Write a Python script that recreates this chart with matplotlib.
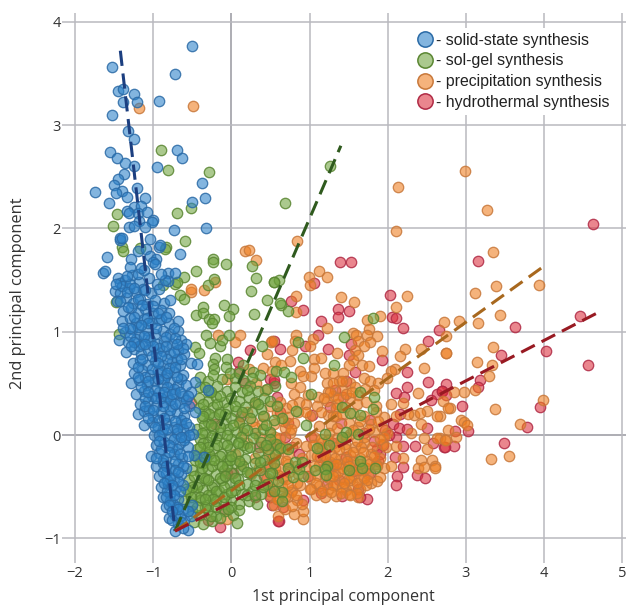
import matplotlib
matplotlib.use("Agg")
import matplotlib.pyplot as plt
from matplotlib.lines import Line2D

plt.rcParams['font.family'] = ['Open Sans', 'DejaVu Sans']

labels = ["- solid-state synthesis", "- sol-gel synthesis", "- precipitation synthesis", "- hydrothermal synthesis"]
x_label = "1st principal component"
y_label = "2nd principal component"
x_ticks = [-2, -1, 0, 1, 2, 3, 4, 5]
y_ticks = [-1, 0, 1, 2, 3, 4]

hydrothermal = [
(4.62,2.04),(3.15,1.68),(3.63,1.05),(4.46,1.15),(3.45,0.77),(4.02,0.81),(4.56,0.68),(3.18,0.53),(3.15,0.46),(2.75,0.49),
(2.69,0.43),(2.95,0.28),(3.94,0.27),(3.78,0.08),(3.03,0.04),(2.86,0.04),(3.49,-0.08),(2.85,-0.11),(2.72,-0.12),
(1.39,1.67),(1.53,1.67),(1.06,1.47),(0.76,1.30),(0.92,1.21),(2.03,1.36),(1.36,1.22),(1.50,1.20),(1.36,1.14),(1.14,1.10),
(2.05,1.14),(2.11,1.13),(2.20,1.04),(2.65,1.02),(1.11,0.97),(2.51,0.91),(1.53,0.88),(0.54,0.91),(0.62,0.83),(1.24,0.83),(0.94,0.86),
(1.92,0.73),(1.50,0.77),(2.25,0.61),(2.51,0.51),(2.11,0.41),(2.24,0.46),(2.21,0.37),(2.63,0.40),(2.69,0.43),(2.55,0.34),(2.75,0.39),
(2.50,0.07),(2.16,0.20),(2.07,0.11),(2.14,0.07),(2.24,0.06),(2.11,-0.02),(2.20,-0.11),(2.35,-0.11),(2.58,-0.08),(2.73,-0.12),
(2.20,-0.31),(2.09,-0.21),(2.12,-0.40),(2.10,-0.48),(2.37,-0.39),(2.47,-0.42),(1.74,-0.62),(1.42,-0.59),(1.15,-0.56),(0.61,-0.83),
(0.92,-0.63),(0.86,-0.18),(1.43,0.37),(1.58,0.61),(1.47,0.52),(1.33,0.44),(1.26,0.27),(1.03,0.19),(0.69,-0.02),(0.54,0.50),(0.58,0.37),
(1.77,0.15),(1.90,-0.18),(1.86,-0.14),(1.77,-0.37),(1.13,-0.21),(1.47,-0.21),(0.49,-0.60),(0.49,-0.54),
(0.24,0.82),(0.09,0.71),(0.10,0.62),(0.49,0.54),(0.55,0.53),(0.17,0.50),(-0.52,0.31),(-0.21,0.11),(-0.15,-0.89),(0.60,-0.83),
(-0.06,-0.37),(0.02,-0.37),(-0.30,-0.82),(-0.10,-0.72),(0.30,-0.60),(0.52,-0.68),(0.42,-0.40),(0.35,-0.12),(0.12,0.18),(0.72,0.12),
(1.02,-0.02),(1.30,-0.08),(1.55,-0.35),(1.62,-0.52),(1.22,-0.47),(0.98,-0.40),(0.78,-0.12),(1.70,0.02),(1.96,0.05),(1.40,0.12),(0.62,0.22),
(1.88,-0.25),(1.94,-0.10),(1.82,-0.06),(2.02,0.00),(1.65,-0.60),(1.30,-0.30),(1.38,-0.44),(0.50,-0.10),(0.46,-0.30),(0.66,-0.70),
]

precipitation = [
(2.99,2.56),(3.27,2.18),(3.35,1.77),(3.38,1.44),(3.11,1.37),(3.93,1.45),(3.43,1.16),(3.15,1.08),(2.91,1.10),(2.72,1.09),(2.74,0.96),
(2.74,0.79),(3.34,0.85),(3.14,0.71),(3.33,0.68),(3.29,0.57),(3.11,0.44),(2.97,0.42),(2.85,0.42),(2.71,0.33),(2.80,0.26),(3.37,0.25),
(3.99,0.34),(3.69,0.11),(2.94,0.15),(2.97,0.13),(3.01,0.10),(2.77,0.05),(2.87,-0.02),(2.75,-0.05),(3.55,-0.20),(3.32,-0.23),(2.67,0.18),(2.67,-0.03),
(2.13,2.40),(2.10,1.97),(0.84,1.88),(1.12,1.59),(1.22,1.53),(0.99,1.53),(1.00,1.45),(1.40,1.34),(1.57,1.29),(0.82,1.35),(0.83,1.19),
(2.24,1.35),(2.10,1.24),(1.90,1.15),(1.74,1.11),(1.22,1.04),(0.83,0.97),(0.81,0.91),(1.04,0.93),(1.55,0.99),(1.59,0.97),(1.62,0.91),
(1.76,1.03),(1.74,0.97),(1.86,0.96),(1.77,0.90),(1.00,0.86),(2.22,0.83),(2.43,0.83),(0.77,0.82),(1.92,0.81),(1.69,0.86),(1.58,0.82),(0.51,0.90),
(0.75,0.72),(1.05,0.74),(1.15,0.75),(1.35,0.79),(0.88,0.62),(0.92,0.57),(1.02,0.57),(1.06,0.65),(0.56,0.71),(2.16,0.76),(2.74,0.79),
(2.46,0.65),(2.09,0.64),(2.04,0.62),(1.99,0.55),(2.39,0.41),(2.19,0.31),(0.80,0.40),(0.70,0.26),(1.24,0.19),(1.28,0.10),(1.11,0.37),
(0.98,0.39),(0.86,0.32),(1.62,0.77),(1.56,0.73),(1.67,0.68),(1.76,0.67),(1.50,0.68),(1.20,0.60),(1.30,0.60),(1.69,0.55),(1.77,0.52),
(1.88,0.50),(1.82,0.44),(1.71,0.45),(1.62,0.39),(1.52,0.36),(1.37,0.52),(1.22,0.50),(1.43,0.60),(1.52,0.50),(2.33,0.19),(2.42,0.11),
(2.63,0.18),(2.77,0.26),(2.50,0.23),(2.41,0.21),(1.99,0.02),(2.11,-0.11),(2.46,-0.03),(2.63,-0.03),(2.73,-0.05),(2.50,-0.14),(2.43,-0.24),
(2.56,-0.24),(2.39,-0.32),(2.46,-0.31),(2.60,-0.30),(2.61,-0.32),(1.79,-0.46),(1.86,-0.45),(0.92,-0.81),(0.91,-0.74),(0.80,-0.76),
(-1.18,3.17),(-0.49,3.18),(0.17,1.78),(0.22,1.79),(0.31,1.69),(-0.52,1.38),(-0.52,1.41),(-0.35,1.40),(-0.21,1.48),(0.11,0.97),(0.05,0.90),
(-0.17,0.97),(0.52,0.91),(0.45,0.78),(0.41,0.65),(0.43,0.44),(-0.06,0.54),(0.26,0.14),(0.39,0.11),(-0.06,-0.81),
(0.30,0.31),(0.50,0.28),(0.62,0.32),(0.78,0.29),(0.95,0.30),(1.10,0.28),(1.22,0.33),(1.35,0.30),(1.45,0.27),(1.60,0.30),(1.72,0.32),(1.85,0.28),
(0.20,0.22),(0.42,0.18),(0.58,0.21),(0.72,0.17),(0.85,0.22),(1.00,0.18),(1.15,0.22),(1.30,0.18),(1.55,0.21),(1.70,0.18),(1.85,0.22),(1.95,0.17),
(0.10,0.12),(0.30,0.08),(0.55,0.11),(0.68,0.07),(0.80,0.12),(1.12,0.09),(1.35,0.07),(1.50,0.12),(1.62,0.08),(1.78,0.11),(1.92,0.08),
(0.15,0.02),(0.35,-0.02),(0.50,0.01),(0.62,-0.03),(0.75,0.02),(1.05,-0.02),(1.25,0.02),(1.35,-0.03),(1.52,0.01),(1.70,-0.02),(1.82,0.03),(1.95,-0.02),
(0.20,-0.08),(0.42,-0.12),(0.55,-0.09),(0.70,-0.13),(0.82,-0.08),(0.96,-0.11),(1.15,-0.08),(1.32,-0.12),(1.45,-0.09),(1.58,-0.12),(1.70,-0.08),(1.80,-0.12),(1.92,-0.09),
(0.05,-0.18),(0.30,-0.22),(0.48,-0.19),(0.60,-0.23),(0.72,-0.18),(0.90,-0.22),(1.02,-0.19),(1.18,-0.22),(1.28,-0.18),(1.40,-0.23),(1.52,-0.19),(1.65,-0.22),(1.78,-0.18),(1.90,-0.22),
(0.12,-0.28),(0.35,-0.32),(0.50,-0.29),(0.62,-0.33),(0.72,-0.28),(0.95,-0.32),(1.12,-0.29),(1.28,-0.32),(1.38,-0.28),(1.48,-0.33),(1.58,-0.29),(1.72,-0.32),(1.85,-0.28),(1.95,-0.32),
(0.25,-0.38),(0.45,-0.42),(0.60,-0.39),(0.70,-0.43),(0.85,-0.38),(1.00,-0.42),(1.10,-0.39),(1.25,-0.42),(1.32,-0.38),(1.44,-0.43),(1.55,-0.39),(1.66,-0.42),(1.75,-0.38),(1.90,-0.41),
(0.40,-0.48),(0.52,-0.52),(0.65,-0.49),(0.78,-0.53),(0.88,-0.48),(1.02,-0.52),(1.12,-0.49),(1.24,-0.52),(1.34,-0.48),(1.46,-0.53),(1.56,-0.49),(1.64,-0.52),(1.72,-0.48),
(0.50,-0.58),(0.60,-0.62),(0.72,-0.59),(0.84,-0.63),(1.08,-0.58),(1.20,-0.60),(1.34,-0.59),(1.50,-0.57),(1.62,-0.60),
(0.55,-0.68),(0.68,-0.72),(0.78,-0.69),(0.90,-0.67),(0.60,-0.78),
(1.16,-0.15),(1.26,-0.26),(1.36,-0.36),(1.46,-0.14),(1.56,-0.25),(1.66,-0.34),(1.20,-0.40),(1.30,-0.48),(1.42,-0.50),(1.52,-0.44),(1.60,-0.56),(1.74,-0.25),
(1.86,-0.30),(1.10,-0.20),(1.40,-0.05),(1.60,-0.06),(1.30,0.38),(1.42,0.44),(1.58,0.46),(1.24,0.42),(1.34,0.26),(0.56,-0.32),(0.66,-0.42),(0.76,-0.55),(0.60,-0.15),(0.70,-0.25),(0.84,-0.46),
(1.14,-0.04),(1.22,-0.13),(1.32,-0.22),(1.42,-0.32),(1.50,-0.42),(1.60,-0.46),(1.70,-0.42),(1.18,-0.32),(1.08,-0.46),(1.16,-0.54),(1.28,-0.55),(1.40,-0.56),(1.52,-0.58),
(1.46,-0.02),(1.56,0.05),(1.66,-0.12),(1.76,-0.28),(1.82,-0.20),(1.68,-0.16),(1.60,-0.34),(1.48,-0.25),(1.38,-0.14),(1.24,-0.05),(1.04,-0.10),(1.06,-0.30),(1.00,-0.52),
(1.12,-0.12),(1.34,-0.28),(1.44,-0.46),(1.22,-0.28),(1.56,-0.16),(1.30,-0.40),(1.20,-0.20),(1.74,-0.44),(1.64,-0.28),(1.50,-0.30),
(0.52,-0.45),(0.62,-0.55),(0.72,-0.48),(0.82,-0.58),(0.58,-0.62),(0.68,-0.60),(0.52,-0.22),(0.64,-0.12),(0.74,-0.36),(0.82,-0.30),(0.56,-0.02),(0.66,0.14),(0.76,0.06),
(1.26,0.42),(1.36,0.36),(1.46,0.40),(1.54,0.42),(1.30,0.50),(1.42,0.52),(1.34,0.18),(1.42,0.20),(1.64,0.14),(1.76,0.06),(1.88,0.14),(1.90,-0.04),(1.98,-0.12),
(0.22,0.64),(0.32,0.50),(0.52,0.62),(0.64,0.68),(0.76,0.50),(0.88,0.46),(0.96,0.22),(1.18,0.36),(2.04,0.30),(2.10,0.18),(2.26,0.20),(2.30,0.02),(2.04,-0.30),(2.20,-0.22),
]

sol_gel = [
(1.26,2.60),(0.68,2.25),(0.55,1.48),(0.61,1.50),(0.63,1.26),(0.73,1.20),(1.81,1.13),(1.44,0.95),(0.85,0.90),
(0.57,0.62),(0.67,0.61),(0.76,0.56),(0.56,0.47),(0.91,0.75),(1.31,0.68),(1.02,0.40),(1.64,0.42),(1.82,0.37),(1.41,0.27),(1.52,0.21),
(1.65,0.19),(1.81,0.25),(0.83,0.23),(0.65,0.16),(0.54,0.15),(0.95,0.10),(1.20,0.01),(1.46,0.03),(1.42,-0.02),(1.62,0.01),(1.10,-0.13),
(1.25,-0.10),(0.57,-0.09),(0.62,-0.13),(0.56,-0.19),(0.81,-0.26),(0.90,-0.26),(0.73,-0.32),(0.86,-0.33),(1.07,-0.34),(1.22,-0.30),(1.20,-0.33),
(1.21,-0.39),(1.50,-0.34),(1.64,-0.25),(1.67,-0.32),(1.84,-0.32),(0.79,-0.41),(0.92,-0.40),(0.60,-0.45),(0.52,-0.37),(0.65,-0.55),(0.65,-0.64),
(-0.90,2.76),(-0.81,2.57),(-0.28,2.55),(-0.52,2.20),(-0.70,2.15),(-1.46,2.14),(-1.52,2.02),(-0.59,1.88),(-0.83,1.82),(-0.85,1.80),(-1.17,1.81),
(-1.40,1.82),(-1.38,1.78),(-0.24,1.70),(-0.23,1.67),(-0.07,1.66),(0.26,1.64),(-0.45,1.59),
(-0.61,1.53),(-0.72,1.46),(-0.70,1.48),(-0.88,1.45),(-0.30,1.45),(-0.22,1.51),(0.31,1.52),(0.54,1.48),(0.25,1.39),(0.45,1.31),(0.62,1.28),
(-0.66,1.36),(-0.61,1.32),(-0.45,1.16),(-0.36,1.24),(-0.36,1.18),(-0.09,1.26),(0.02,1.22),(-0.03,1.15),(0.29,1.17),(-0.28,1.12),(-0.22,1.12),(-0.25,1.08),
(-0.32,0.97),(-0.27,0.89),(-0.15,0.86),(-0.12,0.92),(-0.03,0.97),(-1.44,0.98),(-1.47,1.29),(-0.46,0.85),(-0.42,0.79),(-0.21,0.75),(-0.23,0.69),(-0.22,0.64),
(-0.06,0.74),(-0.07,0.66),(0.39,0.86),(0.15,0.68),(0.28,0.61),(0.36,0.58),(0.26,0.55),
(-0.40,0.56),(-0.30,0.52),(-0.12,0.54),(0.05,0.55),(0.15,0.53),
(-0.40,0.46),(-0.28,0.42),(-0.18,0.47),(-0.05,0.43),(0.05,0.46),(0.14,0.42),(0.24,0.47),(0.34,0.43),(0.46,0.45),
(-0.42,0.36),(-0.30,0.33),(-0.20,0.37),(-0.10,0.32),(0.00,0.36),(0.10,0.33),(0.22,0.37),(0.30,0.32),(0.42,0.36),(0.50,0.33),
(-0.42,0.26),(-0.34,0.23),(-0.24,0.27),(-0.14,0.22),(-0.04,0.26),(0.06,0.23),(0.18,0.27),(0.26,0.22),(0.38,0.25),
(-0.38,0.16),(-0.30,0.13),(-0.22,0.17),(-0.10,0.12),(0.00,0.16),(0.10,0.13),(0.24,0.16),
(-0.44,0.06),(-0.34,0.03),(-0.24,0.07),(-0.14,0.02),(-0.04,0.06),(0.06,0.03),(0.16,0.07),(0.30,0.02),(0.40,0.06),(0.50,0.03),
(-0.40,-0.04),(-0.30,-0.07),(-0.20,-0.03),(-0.10,-0.08),(0.00,-0.04),(0.10,-0.07),(0.28,-0.03),(0.38,-0.07),(0.50,-0.04),
(-0.44,-0.14),(-0.34,-0.17),(-0.22,-0.13),(-0.12,-0.18),(-0.02,-0.14),(0.08,-0.17),(0.20,-0.13),(0.34,-0.17),(0.47,-0.14),
(-0.46,-0.24),(-0.36,-0.27),(-0.26,-0.23),(-0.16,-0.28),(-0.06,-0.24),(0.04,-0.27),(0.18,-0.23),(0.30,-0.27),(0.42,-0.24),(0.55,-0.27),
(-0.50,-0.34),(-0.40,-0.37),(-0.30,-0.33),(-0.20,-0.38),(-0.10,-0.34),(0.00,-0.37),(0.12,-0.33),(0.24,-0.37),(0.36,-0.34),(0.50,-0.37),
(-0.54,-0.44),(-0.42,-0.47),(-0.32,-0.43),(-0.22,-0.48),(-0.12,-0.44),(-0.02,-0.47),(0.08,-0.43),(0.20,-0.47),(0.32,-0.44),(0.45,-0.47),
(-0.56,-0.54),(-0.46,-0.57),(-0.36,-0.53),(-0.26,-0.58),(-0.16,-0.54),(-0.06,-0.57),(0.04,-0.53),(0.14,-0.57),(0.26,-0.54),(0.38,-0.57),(0.55,-0.54),
(-0.60,-0.64),(-0.50,-0.67),(-0.40,-0.63),(-0.30,-0.68),(-0.20,-0.64),(-0.10,-0.67),(0.00,-0.63),(0.10,-0.67),(0.22,-0.64),(0.33,-0.67),
(-0.50,-0.74),(-0.40,-0.77),(-0.30,-0.73),(-0.20,-0.78),(-0.08,-0.74),(0.02,-0.77),(0.10,-0.73),
(-0.48,-0.84),(-0.36,-0.86),(-0.25,-0.83),(0.07,-0.85),
(-0.35,0.10),(-0.25,-0.01),(-0.15,0.08),(-0.05,-0.10),(-0.15,-0.20),(-0.25,-0.30),(-0.35,-0.42),(-0.25,-0.50),(-0.15,-0.42),(-0.05,-0.30),(0.05,-0.42),(0.15,-0.30),
(-0.40,-0.60),(-0.30,-0.58),(-0.20,-0.70),(-0.10,-0.60),(0.00,-0.70),(-0.34,-0.70),(-0.44,-0.50),(-0.45,-0.20),(-0.36,-0.08),(-0.28,0.20),(-0.18,0.30),(-0.08,0.20),(0.02,0.10),(0.15,-0.10),
(-0.36,0.30),(-0.26,0.42),(-0.14,0.38),(0.04,0.28),(0.14,0.22),(0.20,0.05),(0.12,-0.02),(-0.18,-0.10),(-0.28,-0.18),(-0.38,-0.32),(-0.30,-0.44),(-0.20,-0.54),(-0.10,-0.50),
(0.00,-0.55),(0.10,-0.48),(0.20,-0.58),(0.30,-0.48),(0.10,-0.25),(0.20,-0.36),(-0.02,-0.24),(-0.08,-0.40),(-0.50,-0.50),(-0.44,-0.70),(-0.26,-0.78),(-0.14,-0.80),(-0.04,-0.72),
(-0.32,-0.22),(-0.22,-0.24),(-0.12,-0.30),(0.00,-0.20),(0.08,-0.08),(-0.06,0.00),(-0.16,0.20),(-0.26,0.10),(-0.36,0.18),(-0.38,0.02),(-0.30,-0.12),(-0.40,-0.12),
(0.30,-0.58),(0.40,-0.50),(0.36,-0.26),(0.44,-0.10),(0.24,-0.12),(0.40,0.18),(-0.24,-0.62),(-0.34,-0.62),(-0.48,-0.40),(-0.40,-0.26),(-0.52,-0.60),(-0.58,-0.52),
(0.72,-0.14),(0.44,0.10),(-0.34,0.46),(-0.24,0.58),(-0.02,0.60),(0.10,0.60),(0.20,0.44),(0.58,0.28),(0.34,0.30),
]

solid_state = [
(-0.50,3.77),(-1.53,3.56),(-0.72,3.49),(-1.45,3.33),(-1.38,3.35),(-1.25,3.30),(-1.38,3.22),(-1.21,3.22),(-0.93,3.23),(-1.53,3.10),
(-1.32,2.94),(-1.25,2.87),(-1.55,2.74),(-1.46,2.68),(-1.36,2.63),(-1.24,2.60),(-0.69,2.76),(-0.63,2.68),(-0.95,2.59),(-1.37,2.53),
(-1.45,2.48),(-1.50,2.42),(-1.21,2.39),(-1.40,2.36),(-1.48,2.34),(-1.75,2.35),(-1.33,2.30),(-1.57,2.25),(-1.10,2.29),(-0.37,2.44),
(-0.34,2.29),(-0.51,2.26),(-1.24,2.21),(-1.15,2.22),(-1.34,2.17),(-1.31,2.15),(-1.19,2.15),(-1.08,2.16),(-1.18,2.07),(-1.00,2.08),
(-1.02,2.06),(-1.31,2.01),(-1.25,2.02),(-1.11,2.01),(-0.73,1.98),(-0.33,2.00),(-1.04,1.90),(-1.42,1.89),(-1.43,1.91),(-1.40,1.91),
(-0.92,1.82),(-0.91,1.84),(-1.20,1.78),(-1.09,1.80),(-0.66,1.75),(-1.04,1.73),(-1.29,1.70),(-1.59,1.72),(-0.96,1.70),(-1.00,1.67),
(-1.64,1.57),(-1.62,1.59),(-1.45,1.52),(-1.27,1.55),(-1.30,1.63),(-0.98,1.66),(-0.81,1.57),(-0.72,1.57),(-0.81,1.49),(-1.42,1.47),
(-1.36,1.50),(-1.18,1.48),(-1.05,1.52),(-0.95,1.46),(-0.85,1.50),
(-1.49,1.39),(-1.42,1.37),(-1.31,1.42),(-1.22,1.38),(-1.13,1.41),(-1.03,1.37),(-0.92,1.41),
(-1.46,1.30),(-1.35,1.33),(-1.26,1.28),(-1.17,1.32),(-1.08,1.27),(-0.98,1.31),(-0.86,1.28),(-0.78,1.31),
(-1.38,1.20),(-1.28,1.23),(-1.20,1.18),(-1.10,1.22),(-1.00,1.18),(-0.90,1.21),(-0.80,1.18),
(-1.40,1.10),(-1.30,1.13),(-1.22,1.08),(-1.12,1.12),(-1.02,1.08),(-0.92,1.11),(-0.80,1.08),(-0.68,1.10),
(-1.36,1.00),(-1.27,1.03),(-1.18,0.98),(-1.08,1.02),(-0.98,0.98),(-0.88,1.01),(-0.78,0.98),(-0.68,1.01),
(-1.44,0.92),(-1.32,0.90),(-1.22,0.93),(-1.14,0.88),(-1.04,0.92),(-0.95,0.88),(-0.86,0.91),(-0.76,0.88),(-0.64,0.92),(-0.58,0.88),
(-1.35,0.80),(-1.25,0.83),(-1.16,0.78),(-1.07,0.82),(-0.97,0.78),(-0.87,0.81),(-0.78,0.78),(-0.68,0.82),(-0.60,0.78),
(-1.26,0.70),(-1.17,0.73),(-1.08,0.68),(-0.98,0.72),(-0.88,0.68),(-0.76,0.71),(-0.66,0.68),(-0.52,0.70),(-0.44,0.69),
(-1.24,0.60),(-1.14,0.63),(-1.04,0.58),(-0.94,0.62),(-0.84,0.58),(-0.74,0.61),(-0.62,0.58),
(-1.29,0.50),(-1.18,0.53),(-1.08,0.48),(-0.98,0.52),(-0.88,0.48),(-0.78,0.51),(-0.68,0.48),(-0.46,0.51),
(-1.22,0.40),(-1.12,0.43),(-1.02,0.38),(-0.92,0.42),(-0.82,0.38),(-0.72,0.41),(-0.62,0.38),(-0.52,0.42),(-0.30,0.44),
(-1.17,0.30),(-1.06,0.33),(-0.96,0.28),(-0.86,0.32),(-0.76,0.28),(-0.66,0.31),(-0.54,0.28),
(-1.19,0.20),(-1.12,0.23),(-1.00,0.18),(-0.90,0.22),(-0.80,0.18),(-0.70,0.21),(-0.60,0.18),(-0.47,0.22),
(-1.12,0.10),(-1.02,0.13),(-0.94,0.08),(-0.84,0.12),(-0.74,0.08),(-0.64,0.11),(-0.54,0.08),
(-0.99,0.00),(-0.89,0.03),(-0.79,-0.02),(-0.69,0.02),(-0.59,-0.02),(-0.49,0.01),
(-0.96,-0.10),(-0.86,-0.07),(-0.76,-0.12),(-0.66,-0.08),(-0.56,-0.12),
(-1.03,-0.20),(-0.93,-0.17),(-0.83,-0.22),(-0.73,-0.18),(-0.63,-0.22),(-0.48,-0.19),(-0.35,-0.21),
(-0.96,-0.30),(-0.87,-0.27),(-0.78,-0.32),(-0.68,-0.28),(-0.58,-0.32),
(-0.92,-0.40),(-0.83,-0.37),(-0.74,-0.42),(-0.64,-0.38),
(-0.90,-0.50),(-0.81,-0.47),(-0.72,-0.52),(-0.62,-0.48),
(-0.87,-0.60),(-0.78,-0.57),(-0.68,-0.62),
(-0.84,-0.70),(-0.75,-0.67),(-0.62,-0.72),(-0.50,-0.68),
(-0.80,-0.80),(-0.72,-0.77),(-0.60,-0.82),(-0.52,-0.78),
(-0.72,-0.93),(-0.56,-0.92),
(-1.40,1.44),(-1.30,1.46),(-1.20,1.32),(-1.32,1.24),(-1.10,1.40),(-1.00,1.25),(-0.90,1.12),(-1.20,1.05),(-1.08,1.13),(-0.96,1.04),(-0.84,0.95),
(-1.30,0.96),(-1.18,0.86),(-1.06,0.95),(-0.92,0.84),(-0.82,0.74),(-0.72,0.94),(-1.20,0.66),(-1.02,0.76),(-0.90,0.62),(-0.80,0.65),(-0.70,0.74),
(-1.10,0.56),(-0.98,0.44),(-0.86,0.54),(-0.74,0.45),(-0.64,0.54),(-1.10,0.36),(-0.90,0.36),(-0.78,0.34),(-0.58,0.34),(-1.05,0.24),(-0.92,0.15),(-0.78,0.24),(-0.64,0.15),
(-0.88,0.06),(-0.74,-0.04),(-0.62,0.06),(-0.90,-0.14),(-0.70,-0.14),(-0.60,-0.05),(-0.88,-0.24),(-0.72,-0.25),(-0.82,-0.44),(-0.68,-0.45),(-0.78,-0.64),(-0.70,-0.70),(-0.82,-0.54),
(-0.68,-0.86),(-0.62,-0.90),(-0.66,-0.78),
(-1.24,0.90),(-1.12,0.96),(-1.00,0.86),(-0.90,0.76),(-0.84,0.86),(-0.74,0.80),(-1.14,0.74),(-1.02,0.64),(-0.94,0.70),(-0.82,0.60),(-0.72,0.66),(-0.64,0.74),
(-1.20,0.56),(-1.06,0.52),(-0.94,0.54),(-0.82,0.46),(-0.70,0.56),(-0.58,0.48),(-1.16,0.46),(-1.06,0.42),(-0.96,0.36),(-0.86,0.42),(-0.76,0.40),(-0.66,0.42),(-0.56,0.38),
(-1.10,0.28),(-1.00,0.24),(-0.88,0.28),(-0.72,0.30),(-0.60,0.26),(-1.06,0.16),(-0.98,0.08),(-0.86,0.16),(-0.72,0.14),(-0.58,0.12),(-0.92,0.00),(-0.82,0.06),(-0.70,0.06),(-0.54,0.00),
(-0.92,-0.06),(-0.80,-0.10),(-0.64,-0.02),(-0.97,-0.22),(-0.80,-0.16),(-0.66,-0.18),(-0.55,-0.20),(-0.84,-0.30),(-0.72,-0.34),(-0.62,-0.30),(-0.88,-0.36),(-0.78,-0.42),(-0.68,-0.36),
(-0.86,-0.46),(-0.76,-0.48),(-0.66,-0.54),(-0.84,-0.60),(-0.74,-0.58),(-0.80,-0.68),(-0.68,-0.72),(-0.76,-0.82),(-0.64,-0.84),(-0.56,-0.74),(-0.76,-0.74),
(-1.34,1.38),(-1.24,1.42),(-1.14,1.26),(-1.24,1.14),(-1.06,1.08),(-1.16,1.06),(-0.94,1.18),(-0.84,1.14),(-1.30,1.04),(-1.38,1.04),(-1.42,1.30),(-1.28,0.86),(-1.10,0.88),
(-0.74,1.04),(-0.62,0.84),(-0.70,0.88),(-1.34,1.54),(-1.20,1.56),(-1.12,1.60),(-1.48,1.46),(-1.16,1.62),(-0.90,1.56),
]

fit_lines = {
    "solid": ([-1.42, -0.72], [3.72, -0.93]),
    "gel": ([-0.72, 1.40], [-0.93, 2.80]),
    "precip": ([-0.72, 3.97], [-0.93, 1.62]),
    "hydro": ([-0.72, 4.70], [-0.93, 1.19]),
}

series = [
    (hydrothermal, '#dc2f3c', '#b02a45'),
    (precipitation, '#ee7d1e', '#c8783a'),
    (sol_gel, '#6fa33c', '#5a8632'),
    (solid_state, '#2a80c8', '#2a6aa6'),
]
line_colors = {"solid": '#1c3f80', "gel": '#2f5a1e', "precip": '#a8681e', "hydro": '#981a22'}

fig = plt.figure(figsize=(6.26, 6.06), dpi=100)
ax = fig.add_axes([62/626, 1-563/606, (626-62)/626, (563-13)/606])
ax.set_xlim(-2.166, 5.046)
ax.set_ylim(-1.239, 4.085)
for s in ax.spines.values():
    s.set_visible(False)
ax.set_xticks(x_ticks)
ax.set_yticks(y_ticks)
ax.tick_params(length=0, labelsize=10.5, labelcolor='#333333')
ax.tick_params(axis='x', pad=2)
ax.tick_params(axis='y', pad=1)
ax.grid(True, color='#b9b9bf', lw=1.1, zorder=0)
ax.set_axisbelow(True)
ax.axvline(0, color='#8c8c94', lw=1.4, zorder=0.5)
ax.axhline(0, color='#8c8c94', lw=1.4, zorder=0.5)

for i, (pts, fc, ec) in enumerate(series):
    xs = [p[0] for p in pts]
    ys = [p[1] for p in pts]
    ax.scatter(xs, ys, s=56, facecolor=matplotlib.colors.to_rgba(fc, 0.58),
               edgecolor=matplotlib.colors.to_rgba(ec, 0.85), lw=0.95, zorder=2+i)

for k, (lx, ly) in fit_lines.items():
    ax.plot(lx, ly, color=line_colors[k], lw=2.2, dashes=(5, 2.5), zorder=8)

order = [3, 2, 1, 0]
handles = [Line2D([], [], ls='none', marker='o', ms=11,
                  markerfacecolor=matplotlib.colors.to_rgba(series[j][1], 0.58),
                  markeredgecolor=series[j][2], markeredgewidth=1.1) for j in order]
leg_ax = ax.legend(handles, labels, loc='upper left', bbox_to_anchor=((404-62)/564, 1-(28-13)/550),
                   frameon=True, facecolor='white', edgecolor='none', framealpha=1, fancybox=False,
                   prop={'family': 'Liberation Sans', 'size': 11.4}, labelspacing=0.36, handletextpad=-0.3,
                   borderpad=0.3, borderaxespad=0, labelcolor='#222222')
leg_ax.set_zorder(9)

fig.text(343/626, 1-597/606, x_label, ha='center', va='center', fontsize=11.6, color='#333333')
fig.text(18/626, 1-293/606, y_label, ha='center', va='center', rotation=90, fontsize=11.8, color='#333333')

fig.savefig('out.png', dpi=100)
